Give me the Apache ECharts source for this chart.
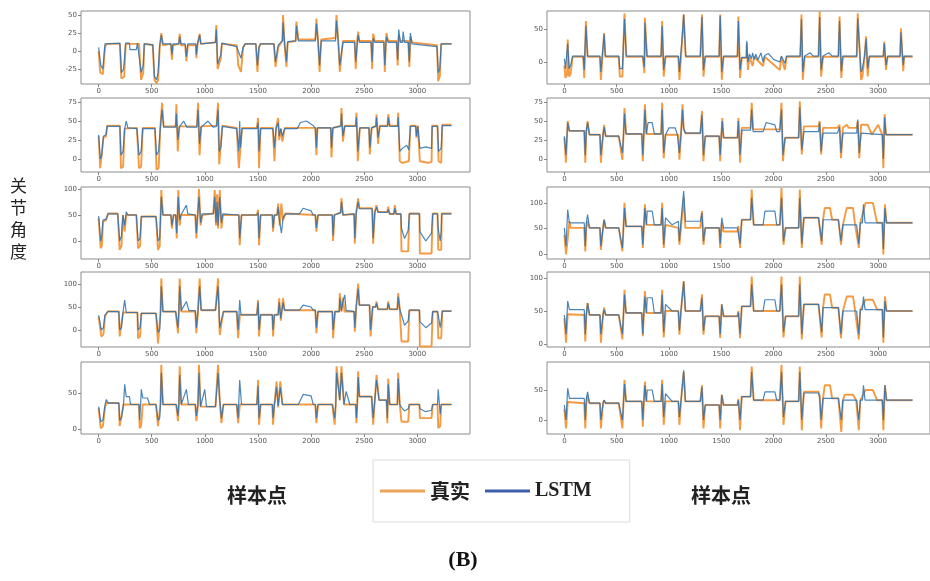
<!DOCTYPE html>
<html><head><meta charset="utf-8">
<script src="https://cdn.jsdelivr.net/npm/echarts@6/dist/echarts.min.js"></script>
<style>html,body{margin:0;padding:0;background:#fff}#c{width:930px;height:581px}</style>
</head><body><div id="c"></div>
<script>
// ---------- data: [sample index, joint angle] ----------
const xTicks=[0,500,1000,1500,2000,2500,3000];
const yTicksL1=[-25,0,25,50], yTicksL2=[0,25,50,75], yTicksL3=[0,50,100], yTicksL4=[0,50,100], yTicksL5=[0,50];
const yTicksR1=[0,50], yTicksR2=[0,25,50,75], yTicksR3=[0,50,100], yTicksR4=[0,50,100], yTicksR5=[0,50];

const L1_real=[[0,0],[15,-30],[40,-32],[60,5],[75,10],[200,10],[214,-38],[240,-36],[255,10],[380,10],[400,-40],[420,-30],[430,10],[510,8],[525,-40],[545,-45],[560,-40],[575,5],[590,25],[605,8],[680,10],[690,-12],[700,8],[755,10],[763,24],[775,8],[815,8],[826,-14],[840,8],[915,8],[920,-10],[930,8],[945,10],[951,24],[962,10],[1100,12],[1108,36],[1120,-25],[1150,-10],[1160,10],[1300,8],[1315,-20],[1340,-29],[1360,5],[1380,10],[1480,10],[1495,-29],[1510,5],[1525,10],[1650,10],[1665,-22],[1690,5],[1730,15],[1736,50],[1750,10],[1768,-22],[1780,12],[1855,14],[1862,41],[1880,16],[2040,16],[2050,45],[2065,16],[2080,-29],[2095,16],[2230,18],[2239,50],[2255,16],[2270,-29],[2300,14],[2410,14],[2420,-25],[2435,16],[2443,27],[2455,14],[2565,14],[2575,-25],[2584,24],[2600,14],[2685,14],[2694,-29],[2705,14],[2710,25],[2725,14],[2805,14],[2815,-20],[2825,22],[2840,14],[2915,14],[2925,-22],[2935,20],[2950,12],[3185,8],[3197,-42],[3212,-35],[3225,10],[3322,10]];
const L1_lstm=[[0,5],[20,-20],[40,-25],[60,10],[75,12],[200,11],[214,-30],[235,-25],[255,11],[290,11],[295,2],[355,2],[365,11],[380,11],[400,-30],[420,-20],[430,10],[510,9],[525,-35],[545,-40],[560,-30],[575,8],[590,22],[605,10],[680,10],[690,-5],[700,10],[755,10],[763,20],[775,10],[815,10],[826,-8],[840,10],[915,10],[920,-5],[930,10],[945,10],[951,22],[962,10],[1100,12],[1108,30],[1120,-18],[1150,-5],[1160,11],[1300,6],[1340,-10],[1360,5],[1380,10],[1480,10],[1495,-20],[1510,6],[1525,10],[1650,10],[1665,-15],[1690,8],[1730,14],[1736,40],[1750,12],[1768,-15],[1780,13],[1855,14],[1862,35],[1880,14],[2040,14],[2050,38],[2065,14],[2080,-20],[2095,14],[2230,14],[2239,42],[2255,14],[2270,-20],[2300,12],[2410,12],[2420,-15],[2435,12],[2443,22],[2455,12],[2565,12],[2575,-15],[2584,18],[2600,12],[2685,12],[2694,-20],[2705,12],[2710,20],[2725,12],[2805,12],[2815,-12],[2825,30],[2840,12],[2860,12],[2867,27],[2880,12],[2915,12],[2925,-15],[2935,25],[2950,10],[3185,6],[3197,-30],[3212,-25],[3225,10],[3322,10]];

const L2_real=[[0,30],[15,-12],[30,-10],[45,28],[70,30],[80,44],[200,44],[210,-12],[230,-10],[245,40],[360,41],[380,-12],[400,-10],[415,41],[530,41],[545,-14],[565,-12],[580,40],[597,74],[612,43],[725,43],[732,72],[745,10],[760,43],[925,43],[936,74],[950,5],[965,43],[1110,44],[1124,74],[1135,-7],[1150,-5],[1165,44],[1300,41],[1320,-12],[1335,-10],[1350,41],[1490,41],[1501,54],[1510,-12],[1525,41],[1640,41],[1655,-3],[1670,41],[1690,54],[1700,25],[1715,40],[1730,23],[1752,41],[2040,41],[2050,5],[2060,41],[2185,41],[2192,2],[2205,41],[2280,44],[2286,67],[2300,23],[2317,44],[2420,44],[2427,61],[2440,-3],[2459,41],[2545,41],[2553,6],[2570,41],[2610,44],[2616,59],[2630,20],[2647,44],[2720,44],[2726,59],[2740,44],[2815,44],[2820,61],[2835,-3],[2860,-5],[2920,-3],[2935,44],[2985,44],[2992,28],[3005,44],[3020,44],[3024,-3],[3100,-5],[3134,-4],[3140,44],[3190,44],[3200,-3],[3225,-5],[3235,45],[3322,45]];
const L2_lstm=[[0,32],[15,0],[30,5],[45,30],[70,32],[80,43],[200,43],[210,5],[230,10],[245,40],[260,50],[275,41],[360,40],[380,5],[400,10],[415,40],[530,40],[545,5],[565,10],[580,40],[597,65],[612,42],[725,42],[732,60],[745,25],[760,42],[800,50],[830,42],[925,42],[936,65],[950,20],[965,42],[1030,50],[1077,42],[1110,43],[1124,65],[1135,10],[1150,15],[1165,43],[1300,40],[1320,10],[1328,50],[1335,15],[1350,40],[1490,40],[1501,48],[1510,10],[1525,40],[1640,40],[1655,15],[1670,40],[1690,48],[1700,30],[1715,40],[1730,30],[1752,40],[1870,40],[1900,48],[1956,50],[2019,44],[2040,41],[2050,15],[2060,41],[2185,41],[2192,15],[2205,41],[2280,43],[2286,60],[2300,30],[2317,43],[2420,43],[2427,55],[2440,10],[2459,41],[2545,41],[2553,15],[2570,41],[2610,43],[2616,55],[2630,28],[2647,43],[2720,43],[2726,55],[2740,43],[2815,43],[2820,55],[2835,10],[2860,14],[2900,18],[2920,12],[2935,43],[2985,43],[2992,30],[3005,43],[3020,43],[3024,14],[3080,16],[3134,14],[3140,43],[3190,43],[3200,10],[3225,14],[3235,44],[3322,44]];

const L3_real=[[0,44],[19,-14],[30,-10],[41,37],[70,40],[88,53],[180,53],[198,-17],[215,-10],[229,50],[245,18],[260,50],[355,50],[371,-14],[390,-10],[402,47],[540,47],[559,-17],[575,-10],[590,98],[605,50],[680,50],[690,24],[705,50],[725,50],[735,5],[750,98],[763,30],[775,50],[910,50],[920,5],[945,100],[960,30],[975,50],[1080,53],[1093,98],[1105,30],[1115,90],[1124,24],[1140,98],[1156,24],[1170,50],[1320,50],[1328,-8],[1345,50],[1490,50],[1501,60],[1510,-8],[1525,50],[1635,50],[1642,18],[1655,50],[1680,50],[1690,72],[1705,30],[1720,72],[1736,40],[1760,53],[2040,50],[2050,18],[2065,50],[2200,50],[2207,0],[2220,50],[2278,55],[2286,82],[2300,50],[2405,52],[2412,-5],[2425,55],[2435,55],[2443,82],[2455,63],[2575,63],[2584,-5],[2600,56],[2608,56],[2616,69],[2630,56],[2718,56],[2726,66],[2740,52],[2780,52],[2788,69],[2800,52],[2845,52],[2851,-20],[2914,-20],[2925,53],[3020,53],[3024,-24],[3134,-24],[3145,53],[3190,53],[3197,-17],[3225,-17],[3230,53],[3322,53]];
const L3_lstm=[[0,48],[19,0],[30,10],[41,40],[70,42],[88,52],[180,52],[198,0],[215,10],[229,50],[245,30],[260,56],[276,50],[355,50],[371,0],[390,5],[402,47],[540,47],[559,0],[575,5],[590,85],[605,50],[680,50],[690,30],[705,50],[725,50],[735,15],[750,85],[763,40],[775,50],[826,69],[840,52],[910,50],[920,15],[945,85],[960,35],[975,52],[1080,52],[1093,85],[1105,35],[1115,75],[1124,30],[1140,85],[1156,35],[1170,52],[1320,50],[1328,5],[1345,50],[1490,50],[1501,55],[1510,5],[1525,50],[1635,50],[1642,25],[1655,50],[1680,50],[1690,65],[1705,35],[1721,15],[1736,45],[1760,52],[1890,52],[1925,63],[2000,58],[2019,50],[2040,50],[2050,25],[2065,50],[2200,50],[2207,10],[2220,50],[2278,54],[2286,75],[2300,50],[2405,52],[2412,5],[2425,55],[2435,55],[2443,75],[2455,62],[2575,62],[2584,5],[2600,55],[2608,55],[2616,65],[2630,55],[2718,55],[2726,60],[2740,52],[2780,52],[2788,63],[2800,52],[2845,52],[2851,24],[2880,5],[2914,20],[2925,52],[3020,52],[3024,18],[3080,0],[3134,15],[3145,52],[3190,52],[3197,24],[3215,0],[3225,18],[3230,52],[3322,52]];

const L4_real=[[0,29],[25,-14],[45,-10],[60,30],[88,41],[190,40],[198,-14],[215,-10],[230,38],[365,38],[371,-18],[390,-14],[402,36],[540,36],[559,-29],[575,-25],[582,36],[590,112],[605,40],[725,40],[747,-7],[755,40],[763,112],[778,40],[910,40],[920,-7],[935,40],[951,112],[965,43],[1100,43],[1115,43],[1124,112],[1140,-11],[1160,20],[1175,40],[1300,40],[1313,-18],[1330,33],[1490,33],[1501,65],[1510,-14],[1525,33],[1635,33],[1642,-14],[1655,33],[1690,33],[1700,69],[1715,20],[1736,69],[1750,43],[2040,43],[2050,-7],[2065,40],[2200,40],[2207,-18],[2225,40],[2265,40],[2270,80],[2286,40],[2300,70],[2315,40],[2405,40],[2412,-4],[2425,50],[2435,50],[2443,101],[2455,54],[2550,54],[2560,-14],[2580,50],[2608,50],[2616,62],[2630,45],[2718,45],[2726,62],[2740,45],[2812,45],[2820,80],[2835,45],[2845,43],[2851,-25],[2914,-25],[2925,43],[3020,43],[3024,-36],[3134,-36],[3145,40],[3190,40],[3197,-18],[3225,-18],[3235,41],[3322,41]];
const L4_lstm=[[0,32],[25,0],[45,5],[60,33],[88,40],[190,40],[198,0],[215,5],[230,40],[245,65],[260,38],[365,38],[371,0],[390,5],[402,36],[540,36],[559,-5],[575,0],[582,36],[590,95],[605,40],[725,40],[747,5],[755,40],[763,95],[778,42],[826,62],[850,42],[910,42],[920,5],[935,42],[951,95],[965,43],[1100,43],[1115,43],[1124,95],[1140,5],[1160,25],[1175,40],[1300,40],[1313,0],[1328,65],[1340,33],[1490,33],[1501,60],[1510,0],[1525,33],[1635,33],[1642,0],[1655,33],[1690,33],[1700,60],[1715,25],[1736,60],[1750,43],[1890,43],[1925,54],[2000,50],[2019,43],[2040,43],[2050,5],[2065,40],[2200,40],[2207,0],[2225,40],[2265,40],[2270,70],[2286,42],[2300,62],[2317,76],[2330,42],[2405,40],[2412,5],[2425,50],[2435,50],[2443,90],[2455,54],[2550,54],[2560,0],[2580,50],[2608,50],[2616,58],[2630,45],[2718,45],[2726,58],[2740,45],[2812,45],[2820,72],[2835,45],[2845,43],[2851,33],[2880,10],[2914,20],[2925,43],[3020,43],[3024,18],[3080,5],[3134,15],[3145,40],[3190,40],[3197,33],[3215,5],[3225,20],[3235,41],[3322,41]];

const L5_real=[[0,29],[19,1],[40,4],[60,30],[72,36],[190,36],[198,4],[215,6],[235,34],[380,34],[386,1],[400,4],[415,34],[540,34],[559,4],[575,6],[582,34],[590,89],[605,34],[730,34],[747,11],[755,34],[763,87],[778,34],[910,34],[920,11],[935,34],[945,89],[960,31],[1100,31],[1115,31],[1124,89],[1140,40],[1156,8],[1175,34],[1300,34],[1313,8],[1330,34],[1490,34],[1501,68],[1510,6],[1525,34],[1635,34],[1642,6],[1655,34],[1668,34],[1675,66],[1690,30],[1710,66],[1730,34],[2040,34],[2050,8],[2065,34],[2200,34],[2222,6],[2232,34],[2240,87],[2270,40],[2286,87],[2310,34],[2420,34],[2427,8],[2435,34],[2443,80],[2455,45],[2570,45],[2584,6],[2600,40],[2608,40],[2616,75],[2640,40],[2710,40],[2718,8],[2726,70],[2740,34],[2812,34],[2820,78],[2835,34],[2845,34],[2851,10],[2914,10],[2925,34],[3020,34],[3024,15],[3134,15],[3145,34],[3190,34],[3197,1],[3215,4],[3225,34],[3322,34]];
const L5_lstm=[[0,31],[19,10],[40,12],[60,33],[72,41],[90,36],[190,36],[198,12],[215,15],[235,36],[245,62],[260,45],[290,45],[300,34],[380,34],[386,12],[395,34],[402,55],[415,43],[460,43],[480,34],[540,34],[559,12],[575,15],[582,34],[590,78],[605,34],[730,34],[747,18],[755,34],[763,75],[778,34],[826,55],[845,34],[910,34],[920,18],[935,34],[945,78],[960,31],[999,55],[1015,31],[1100,31],[1115,31],[1124,78],[1140,40],[1156,15],[1175,34],[1300,34],[1313,15],[1328,68],[1345,34],[1490,34],[1501,60],[1510,15],[1525,34],[1635,34],[1642,15],[1655,34],[1668,34],[1675,58],[1690,32],[1710,58],[1730,34],[1880,34],[1925,48],[2000,46],[2020,34],[2040,34],[2050,15],[2065,34],[2200,34],[2222,15],[2232,34],[2240,78],[2270,40],[2286,78],[2310,34],[2330,52],[2365,34],[2420,34],[2427,15],[2435,34],[2443,72],[2455,45],[2570,45],[2584,15],[2600,40],[2608,40],[2616,68],[2640,40],[2710,40],[2718,15],[2726,62],[2740,34],[2812,34],[2820,70],[2835,34],[2845,34],[2851,30],[2880,25],[2914,28],[2925,34],[3020,34],[3024,28],[3080,24],[3134,26],[3145,34],[3190,34],[3197,55],[3215,20],[3225,34],[3322,34]];

const R1_real=[[0,-5],[10,-24],[25,-20],[32,34],[45,-22],[60,-18],[79,8],[180,8],[190,-24],[206,62],[222,8],[340,8],[349,-27],[380,44],[392,8],[520,8],[530,-22],[555,-22],[575,74],[592,8],[750,8],[765,-17],[770,67],[790,8],[925,8],[935,62],[950,-22],[967,8],[1090,8],[1100,-27],[1125,30],[1141,72],[1160,8],[1300,8],[1316,72],[1330,-22],[1347,8],[1480,8],[1490,72],[1505,-27],[1522,8],[1655,8],[1664,69],[1680,-24],[1696,6],[1740,6],[1744,29],[1755,-12],[1770,8],[1800,-6],[1815,8],[1900,-6],[1915,8],[2060,-12],[2075,8],[2108,-12],[2125,8],[2255,8],[2267,72],[2280,-27],[2298,8],[2430,8],[2441,77],[2455,-22],[2473,8],[2620,8],[2631,69],[2648,-24],[2663,8],[2795,8],[2805,74],[2837,-27],[2850,-22],[2870,8],[2885,39],[2900,-22],[2916,8],[3050,8],[3059,31],[3075,-12],[3091,8],[3210,8],[3218,51],[3240,-14],[3249,8],[3329,8]];
const R1_lstm=[[0,5],[10,-10],[25,-8],[32,28],[45,-10],[60,-5],[79,9],[180,9],[190,-12],[206,55],[222,9],[340,9],[349,-15],[380,42],[392,9],[520,9],[530,-10],[555,-10],[575,65],[592,9],[750,9],[765,-8],[770,60],[790,9],[925,9],[935,55],[950,-12],[967,9],[1090,9],[1100,-15],[1125,35],[1141,72],[1160,9],[1300,9],[1316,68],[1330,-12],[1347,9],[1480,9],[1490,70],[1505,-15],[1522,9],[1655,9],[1664,62],[1680,-12],[1696,7],[1740,7],[1744,32],[1755,0],[1770,12],[1790,5],[1800,14],[1815,4],[1830,12],[1850,3],[1880,14],[1900,0],[1915,10],[1950,13],[2000,4],[2060,0],[2075,9],[2108,-2],[2125,9],[2255,9],[2267,65],[2280,-15],[2298,9],[2350,14],[2380,9],[2430,9],[2441,68],[2455,-12],[2473,9],[2530,14],[2560,9],[2620,9],[2631,62],[2648,-14],[2663,9],[2795,9],[2805,66],[2837,-15],[2850,-10],[2870,9],[2885,35],[2900,-10],[2916,9],[3050,9],[3059,28],[3075,-5],[3091,9],[3210,9],[3218,45],[3240,-5],[3249,9],[3329,9]];

const R2_real=[[0,28],[15,-5],[32,50],[48,37],[190,37],[200,-5],[210,37],[222,50],[240,32],[340,32],[349,-5],[370,32],[380,45],[395,30],[520,30],[555,-1],[565,30],[575,67],[590,33],[740,33],[750,-3],[760,33],[770,72],[785,33],[925,33],[935,74],[950,1],[967,32],[1090,32],[1100,-1],[1115,32],[1130,72],[1141,40],[1157,34],[1300,34],[1316,63],[1330,-3],[1347,30],[1480,30],[1490,-3],[1500,30],[1510,54],[1522,28],[1655,28],[1664,54],[1680,-5],[1696,41],[1780,41],[1791,74],[1805,39],[2060,39],[2076,74],[2090,-3],[2110,28],[2240,28],[2251,76],[2270,6],[2290,43],[2430,43],[2441,50],[2455,6],[2473,41],[2610,41],[2631,45],[2645,1],[2663,41],[2700,45],[2720,41],[2795,41],[2805,50],[2820,1],[2837,45],[2900,45],[2940,32],[3000,45],[3040,32],[3050,-12],[3062,59],[3075,32],[3329,32]];
const R2_lstm=[[0,30],[15,5],[32,48],[48,37],[190,37],[200,5],[210,37],[222,48],[240,32],[340,32],[349,5],[370,32],[380,42],[395,30],[520,30],[555,8],[565,30],[575,60],[590,33],[740,33],[750,5],[760,33],[770,65],[785,33],[800,48],[840,48],[860,33],[925,33],[935,65],[950,8],[967,32],[1000,41],[1060,41],[1080,32],[1090,32],[1100,8],[1115,32],[1130,65],[1141,40],[1157,34],[1300,34],[1316,58],[1330,5],[1347,30],[1480,30],[1490,5],[1500,30],[1510,50],[1522,28],[1655,28],[1664,50],[1680,5],[1696,38],[1780,38],[1791,65],[1805,36],[1900,36],[1930,48],[2013,45],[2030,36],[2060,36],[2076,65],[2090,5],[2110,28],[2240,28],[2251,68],[2270,12],[2290,36],[2430,36],[2441,48],[2455,10],[2473,34],[2610,34],[2631,42],[2645,8],[2663,34],[2795,34],[2805,52],[2820,8],[2837,34],[3040,32],[3050,0],[3062,55],[3075,32],[3329,32]];

const R3_real=[[0,38],[16,-1],[32,30],[48,64],[60,51],[190,51],[200,5],[210,51],[222,64],[240,51],[340,51],[349,8],[370,51],[380,67],[395,51],[520,51],[555,5],[565,51],[575,100],[590,54],[740,54],[750,12],[760,54],[770,97],[785,57],[925,57],[935,100],[950,12],[967,57],[1090,51],[1100,18],[1115,51],[1141,110],[1157,51],[1300,51],[1316,84],[1330,18],[1347,51],[1480,51],[1490,12],[1505,60],[1522,44],[1655,44],[1664,55],[1680,12],[1696,67],[1780,67],[1791,126],[1810,57],[2060,57],[2076,129],[2095,18],[2115,51],[2240,51],[2251,126],[2270,12],[2290,71],[2430,71],[2441,74],[2460,18],[2473,67],[2490,90],[2540,90],[2560,67],[2620,67],[2631,67],[2645,18],[2663,57],[2700,90],[2760,90],[2780,57],[2795,57],[2815,12],[2830,61],[2880,100],[2950,100],[2990,61],[3040,61],[3050,-1],[3065,97],[3080,61],[3329,61]];
const R3_lstm=[[0,51],[16,15],[32,87],[48,61],[190,61],[200,15],[210,61],[222,77],[240,51],[340,51],[349,15],[370,51],[380,67],[395,51],[520,51],[555,12],[565,51],[575,90],[590,54],[740,54],[750,18],[760,54],[770,90],[785,57],[792,84],[840,84],[860,57],[925,57],[935,90],[950,18],[967,71],[1030,57],[1090,64],[1100,25],[1115,64],[1141,123],[1157,64],[1300,64],[1316,80],[1330,25],[1347,51],[1480,51],[1490,20],[1505,71],[1522,51],[1655,51],[1664,50],[1680,20],[1696,67],[1780,67],[1791,110],[1810,57],[1900,57],[1918,84],[2013,84],[2030,57],[2060,57],[2076,110],[2095,25],[2115,51],[2240,51],[2251,110],[2270,20],[2290,71],[2430,71],[2441,70],[2460,25],[2473,67],[2620,67],[2631,67],[2645,25],[2663,57],[2795,57],[2815,20],[2830,61],[2850,61],[2860,97],[2875,61],[3040,61],[3050,10],[3065,90],[3080,61],[3329,61]];

const R4_real=[[0,39],[16,2],[32,45],[48,44],[190,44],[200,4],[210,44],[222,62],[240,44],[340,44],[349,2],[370,44],[380,55],[395,44],[520,44],[555,7],[565,44],[575,82],[590,47],[740,47],[750,12],[760,47],[770,80],[785,47],[925,47],[935,82],[950,10],[967,50],[1090,50],[1100,14],[1115,50],[1141,95],[1157,50],[1300,50],[1316,75],[1330,14],[1347,42],[1480,42],[1490,9],[1505,60],[1522,42],[1655,42],[1664,50],[1680,9],[1696,57],[1780,57],[1791,102],[1810,50],[2060,50],[2076,102],[2095,10],[2115,42],[2240,42],[2251,102],[2270,7],[2290,60],[2430,60],[2441,62],[2460,10],[2473,55],[2490,75],[2540,75],[2560,55],[2620,55],[2631,55],[2645,9],[2663,50],[2700,72],[2760,72],[2780,50],[2795,50],[2815,7],[2830,52],[2880,67],[2950,67],[2990,52],[3040,52],[3050,2],[3065,72],[3080,50],[3329,50]];
const R4_lstm=[[0,44],[16,15],[32,65],[48,52],[190,52],[200,15],[210,44],[222,62],[240,44],[340,44],[349,15],[370,44],[380,52],[395,44],[520,44],[555,15],[565,44],[575,75],[590,47],[740,47],[750,15],[760,47],[770,72],[785,47],[792,70],[840,70],[860,47],[925,47],[935,75],[950,18],[967,60],[1030,50],[1090,50],[1100,20],[1115,50],[1141,95],[1157,50],[1300,50],[1316,70],[1330,20],[1347,42],[1480,42],[1490,15],[1505,60],[1522,42],[1655,42],[1664,48],[1680,15],[1696,57],[1780,57],[1791,90],[1810,50],[1900,50],[1918,67],[2013,67],[2030,50],[2060,50],[2076,90],[2095,18],[2115,42],[2240,42],[2251,90],[2270,15],[2290,60],[2430,60],[2441,58],[2460,18],[2473,55],[2620,55],[2631,55],[2645,15],[2663,50],[2795,50],[2815,15],[2830,52],[2850,52],[2860,72],[2875,52],[3040,52],[3050,10],[3065,65],[3080,50],[3329,50]];

const R5_real=[[0,19],[16,-14],[32,30],[48,28],[190,28],[200,-14],[210,28],[222,40],[240,28],[340,28],[349,-14],[370,28],[380,33],[395,28],[520,28],[555,-14],[565,28],[575,67],[590,31],[740,31],[750,-11],[760,31],[770,64],[785,31],[925,31],[935,67],[950,-8],[967,31],[1090,31],[1100,-8],[1115,31],[1141,80],[1157,31],[1300,31],[1316,58],[1330,-14],[1347,25],[1480,25],[1490,-14],[1505,42],[1522,25],[1655,25],[1664,35],[1680,-17],[1696,39],[1780,39],[1791,89],[1810,33],[2060,33],[2076,92],[2095,-8],[2115,31],[2240,31],[2251,89],[2270,-17],[2290,47],[2430,47],[2441,40],[2455,-14],[2473,36],[2490,58],[2540,58],[2560,36],[2620,36],[2631,36],[2648,-20],[2663,33],[2680,42],[2760,42],[2790,33],[2795,33],[2815,-17],[2830,33],[2880,50],[2950,50],[2990,33],[3040,33],[3050,-17],[3065,58],[3080,33],[3329,33]];
const R5_lstm=[[0,25],[16,0],[32,53],[48,36],[190,36],[200,0],[210,36],[222,47],[240,28],[340,28],[349,0],[370,28],[380,33],[395,28],[520,28],[555,0],[565,28],[575,60],[590,31],[740,31],[750,0],[760,31],[770,58],[785,31],[792,50],[840,50],[860,31],[925,31],[935,60],[950,5],[967,44],[1030,31],[1090,31],[1100,5],[1115,31],[1141,83],[1157,31],[1300,31],[1316,55],[1330,0],[1347,25],[1480,25],[1490,0],[1505,42],[1522,25],[1655,25],[1664,33],[1680,0],[1696,39],[1780,39],[1791,80],[1810,33],[1900,33],[1918,47],[2013,47],[2030,33],[2060,33],[2076,80],[2095,5],[2115,31],[2240,31],[2251,80],[2270,0],[2290,45],[2430,45],[2441,38],[2455,0],[2473,36],[2620,36],[2631,36],[2648,0],[2663,33],[2795,33],[2815,0],[2830,33],[2850,33],[2860,58],[2875,33],[3040,33],[3050,0],[3065,58],[3080,33],[3329,33]];

// ---------- layout ----------
const colLeft=[81,547], colWidth=[389,387];
const rowTop=[11,98,187,272,362], rowBottom=[84,172,259,347,434];
const panels=[
  {real:L1_real,lstm:L1_lstm,col:0,row:0,min:-45.8,max:55.6,ticks:yTicksL1},
  {real:L2_real,lstm:L2_lstm,col:0,row:1,min:-17.1,max:80.3,ticks:yTicksL2},
  {real:L3_real,lstm:L3_lstm,col:0,row:2,min:-34.6,max:103.8,ticks:yTicksL3},
  {real:L4_real,lstm:L4_lstm,col:0,row:3,min:-37,max:126,ticks:yTicksL4},
  {real:L5_real,lstm:L5_lstm,col:0,row:4,min:-7,max:93,ticks:yTicksL5},
  {real:R1_real,lstm:R1_lstm,col:1,row:0,min:-33.3,max:77.3,ticks:yTicksR1},
  {real:R2_real,lstm:R2_lstm,col:1,row:1,min:-17.1,max:80.3,ticks:yTicksR2},
  {real:R3_real,lstm:R3_lstm,col:1,row:2,min:-9.8,max:131,ticks:yTicksR3},
  {real:R4_real,lstm:R4_lstm,col:1,row:3,min:-4.5,max:109,ticks:yTicksR4},
  {real:R5_real,lstm:R5_lstm,col:1,row:4,min:-23.3,max:96.7,ticks:yTicksR5}
];
const ORANGE='#f39a42', BLUE='#2a70b0';
const tickFont={fontSize:7,color:'#555',fontFamily:'DejaVu Sans'};
const grid=[],xAxis=[],yAxis=[],series=[];
panels.forEach((p,i)=>{
  grid.push({left:colLeft[p.col],top:rowTop[p.row],width:colWidth[p.col],height:rowBottom[p.row]-rowTop[p.row],
    show:true,borderColor:'#8c8c8c',borderWidth:1,backgroundColor:'transparent'});
  xAxis.push({type:'value',gridIndex:i,min:-166,max:3496,position:'bottom',
    axisLine:{show:false,onZero:false},splitLine:{show:false},
    axisTick:{show:true,customValues:xTicks,length:3,lineStyle:{color:'#888'}},
    axisLabel:Object.assign({show:true,customValues:xTicks,margin:4,formatter:v=>String(v)},tickFont)});
  yAxis.push({type:'value',gridIndex:i,min:p.min,max:p.max,position:'left',
    axisLine:{show:false,onZero:false},splitLine:{show:false},
    axisTick:{show:true,customValues:p.ticks,length:3,lineStyle:{color:'#888'}},
    axisLabel:Object.assign({show:true,customValues:p.ticks,margin:4,formatter:v=>String(v)},tickFont)});
  series.push({type:'line',name:'真实',xAxisIndex:i,yAxisIndex:i,data:p.real,showSymbol:false,symbol:'none',
    lineStyle:{color:ORANGE,width:1.9},itemStyle:{color:ORANGE},silent:true,z:2});
  series.push({type:'line',name:'LSTM',xAxisIndex:i,yAxisIndex:i,data:p.lstm,showSymbol:false,symbol:'none',
    lineStyle:{color:BLUE,width:1.2,opacity:0.85},itemStyle:{color:BLUE},silent:true,z:3});
});

const chart=echarts.init(document.getElementById('c'),null,{renderer:'canvas'});
chart.setOption({
  animation:false,
  backgroundColor:'#fff',
  grid,xAxis,yAxis,series,
  legend:{
    left:373,top:460,orient:'horizontal',
    padding:[21,38,21,7],itemGap:15,itemWidth:45,itemHeight:3,icon:'rect',
    borderColor:'#dcdcdc',borderWidth:1,
    data:[{name:'真实',itemStyle:{color:'#eba55a'}},{name:'LSTM',itemStyle:{color:'#3e5ea8'}}],
    formatter:n=>n==='LSTM'?'{en|LSTM}':'{zh|真实}',
    textStyle:{rich:{
      zh:{fontFamily:'Noto Sans CJK SC',fontSize:20,fontWeight:'bold',color:'#222'},
      en:{fontFamily:'Liberation Serif',fontSize:20,fontWeight:'bold',color:'#222'}}}
  },
  graphic:[
    {type:'text',left:10,top:175,style:{text:'关\n节\n角\n度',fontFamily:'Noto Sans CJK SC',fontSize:17,lineHeight:22,fill:'#222'}},
    {type:'text',x:257,y:495,style:{text:'样本点',fontFamily:'Noto Sans CJK SC',fontSize:20,fontWeight:'bold',fill:'#222',align:'center',verticalAlign:'middle'}},
    {type:'text',x:721,y:495,style:{text:'样本点',fontFamily:'Noto Sans CJK SC',fontSize:20,fontWeight:'bold',fill:'#222',align:'center',verticalAlign:'middle'}},
    {type:'text',x:463,y:560,style:{text:'(B)',fontFamily:'Liberation Serif',fontSize:22,fontWeight:'bold',fill:'#111',align:'center',verticalAlign:'middle'}}
  ]
});
</script></body></html>
